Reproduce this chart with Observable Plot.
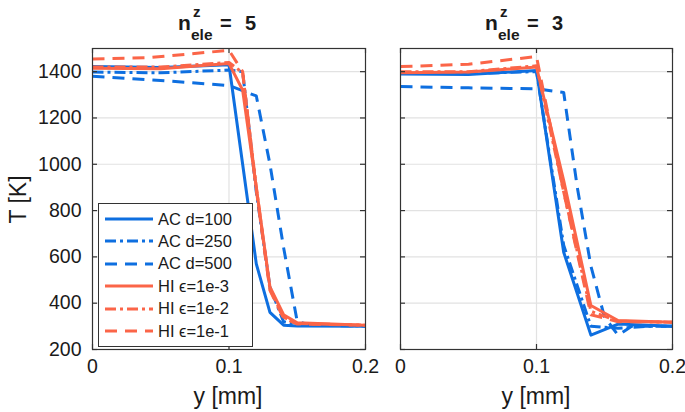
<!DOCTYPE html>
<html>
<head>
<meta charset="utf-8">
<script src="https://cdn.jsdelivr.net/npm/d3@7"></script>
<script src="https://cdn.jsdelivr.net/npm/@observablehq/plot@0.6"></script>
<style>
  html, body { margin: 0; padding: 0; background: #fff; }
  #root { position: relative; width: 685px; height: 412px; overflow: hidden; font-family: "Liberation Sans", Arial, sans-serif; color: #1a1a1a; }
  .panel { position: absolute; top: 0; overflow: visible; }
  .t { position: absolute; font-weight: bold; line-height: 1; white-space: nowrap; }
  .xlabel { position: absolute; font-size: 23px; white-space: nowrap; transform: translateX(-50%); }
  .ylabel { position: absolute; font-size: 23px; white-space: nowrap; transform: rotate(-90deg); transform-origin: center; }
  #legend { position: absolute; left: 98px; top: 203px; width: 155px; height: 144px; border: 1px solid #333; background: #fff; box-sizing: border-box; }
  .lrow { position: absolute; left: 0; height: 22px; display: flex; align-items: center; font-size: 16.5px; white-space: nowrap; }
</style>
</head>
<body>
<div id="root"></div>
<script>
// ---------------- data ----------------
const xTicks = [0, 0.1, 0.2];
const yTicks = [200, 400, 600, 800, 1000, 1200, 1400];
const titles = ["5", "3"];
const seriesNames = ["AC d=100", "AC d=250", "AC d=500", "HI  ϵ=1e-3", "HI  ϵ=1e-2", "HI  ϵ=1e-1"];

// left panel (n_ele^z = 5): [y (mm), T (K)]
const L_AC100 = [[0,1422],[0.05,1418],[0.1,1430],[0.11,1000],[0.12,570],[0.13,360],[0.14,305],[0.15,302],[0.2,300]];
const L_AC250 = [[0,1398],[0.05,1395],[0.1,1407],[0.11,1400],[0.12,880],[0.13,470],[0.14,320],[0.15,305],[0.2,302]];
const L_AC500 = [[0,1380],[0.05,1362],[0.1,1340],[0.12,1295],[0.13,1000],[0.14,640],[0.15,320],[0.16,305],[0.2,302]];
const L_HI3   = [[0,1415],[0.05,1413],[0.1,1435],[0.11,1320],[0.12,900],[0.13,470],[0.14,350],[0.15,315],[0.2,305]];
const L_HI2   = [[0,1420],[0.05,1420],[0.1,1440],[0.11,1395],[0.12,900],[0.13,460],[0.14,340],[0.15,312],[0.2,305]];
const L_HI1   = [[0,1455],[0.04,1460],[0.1,1492],[0.11,1400],[0.12,890],[0.13,455],[0.14,335],[0.15,310],[0.2,305]];

// right panel (n_ele^z = 3)
const R_AC100 = [[0,1390],[0.05,1388],[0.1,1405],[0.12,620],[0.14,262],[0.16,310],[0.2,300]];
const R_AC250 = [[0,1393],[0.05,1392],[0.1,1400],[0.12,650],[0.14,300],[0.16,292],[0.18,300],[0.2,300]];
const R_AC500 = [[0,1336],[0.05,1330],[0.1,1326],[0.12,1310],[0.13,900],[0.14,560],[0.15,340],[0.16,262],[0.17,300],[0.2,300]];
const R_HI3   = [[0,1395],[0.05,1398],[0.1,1420],[0.12,930],[0.14,390],[0.16,325],[0.2,318]];
const R_HI2   = [[0,1400],[0.05,1400],[0.1,1425],[0.12,880],[0.14,365],[0.16,322],[0.2,318]];
const R_HI1   = [[0,1422],[0.05,1432],[0.1,1465],[0.12,880],[0.14,350],[0.16,320],[0.2,318]];

// ---------------- styles ----------------
const BLUE = "#0e6fe0";
const RED = "#fb6548";
const styles = [
  {stroke: BLUE, dash: null},
  {stroke: BLUE, dash: "11,4,3,4"},
  {stroke: BLUE, dash: "12,8"},
  {stroke: RED, dash: null},
  {stroke: RED, dash: "11,4,3,4"},
  {stroke: RED, dash: "12,8"}
];

const root = document.getElementById("root");
const H = 412, MT = 48, MB = 63;
const plotH = H - MT - MB;

function panel(seriesList, left, width, ml, mr, showYLabels) {
  const plotW = width - ml - mr;
  const marks = [
    Plot.gridX([0.1], {stroke: "#e2e2e2", strokeOpacity: 1, strokeWidth: 1.2}),
    Plot.gridY(yTicks, {stroke: "#e2e2e2", strokeOpacity: 1, strokeWidth: 1.2}),
  ];
  seriesList.forEach((s, i) => {
    marks.push(Plot.line(s, {x: d => d[0], y: d => d[1], stroke: styles[i].stroke,
      strokeWidth: 3, strokeDasharray: styles[i].dash, strokeLinejoin: "round", strokeLinecap: "butt"}));
  });
  marks.push(
    Plot.frame({stroke: "#333", strokeWidth: 1.2}),
    Plot.ruleY(yTicks, {y: d => d, insetRight: plotW - 5, stroke: "#333", strokeWidth: 1.2}),
    Plot.ruleY(yTicks, {y: d => d, insetLeft: plotW - 5, stroke: "#333", strokeWidth: 1.2}),
    Plot.ruleX(xTicks, {x: d => d, insetTop: plotH - 5, stroke: "#333", strokeWidth: 1.2}),
    Plot.ruleX(xTicks, {x: d => d, insetBottom: plotH - 5, stroke: "#333", strokeWidth: 1.2}),
    Plot.axisX(xTicks, {tickSize: 0, tickPadding: 10, fontSize: 19.5, label: null, tickFormat: d => String(d)})
  );
  if (showYLabels) {
    marks.push(Plot.axisY(yTicks, {tickSize: 0, tickPadding: 11, fontSize: 19.5, label: null, tickFormat: d => String(d)}));
  }
  const svg = Plot.plot({
    width, height: H, marginLeft: ml, marginRight: mr, marginTop: MT, marginBottom: MB,
    x: {domain: [0, 0.2], axis: null}, y: {domain: [200, 1500], axis: null},
    style: {fontFamily: "'Liberation Sans', Arial, sans-serif", fontSize: "19.5px", color: "#1a1a1a", background: "transparent", overflow: "visible"},
    marks
  });
  svg.classList.add("panel");
  svg.style.left = left + "px";
  root.appendChild(svg);
}

panel([L_AC100, L_AC250, L_AC500, L_HI3, L_HI2, L_HI1], 0, 370, 92, 5, true);
panel([R_AC100, R_AC250, R_AC500, R_HI3, R_HI2, R_HI1], 370, 315, 30, 13, false);

// titles: n^z_ele = value
function addTitle(x0, val) {
  const parts = [
    {txt: "n", dx: 0, top: 12, fs: 21},
    {txt: "z", dx: 15, top: 4, fs: 15},
    {txt: "ele", dx: 13, top: 27, fs: 15.5},
    {txt: "=", dx: 42, top: 13, fs: 20},
    {txt: val, dx: 67, top: 13, fs: 20}
  ];
  parts.forEach(p => {
    const s = document.createElement("span");
    s.className = "t";
    s.textContent = p.txt;
    s.style.left = (x0 + p.dx) + "px";
    s.style.top = p.top + "px";
    s.style.fontSize = p.fs + "px";
    root.appendChild(s);
  });
}
addTitle(178, titles[0]);
addTitle(485, titles[1]);

// axis labels
function addX(cx) {
  const d = document.createElement("div");
  d.className = "xlabel"; d.textContent = "y [mm]";
  d.style.left = cx + "px"; d.style.top = "383px";
  root.appendChild(d);
}
addX(228); addX(536);
const yl = document.createElement("div");
yl.className = "ylabel"; yl.textContent = "T [K]";
yl.style.left = "-12px"; yl.style.top = "186px"; yl.style.width = "60px"; yl.style.textAlign = "center";
root.appendChild(yl);

// legend
const lg = document.createElement("div");
lg.id = "legend";
seriesNames.forEach((name, i) => {
  const row = document.createElement("div");
  row.className = "lrow";
  row.style.top = (4 + i * 22.4) + "px";
  const st = styles[i];
  row.innerHTML = `<svg width="59" height="22" style="display:block"><line x1="6" y1="11" x2="54" y2="11" stroke="${st.stroke}" stroke-width="3" ${st.dash ? `stroke-dasharray="${st.dash}"` : ""}/></svg><span>${name}</span>`;
  lg.appendChild(row);
});
root.appendChild(lg);
</script>
</body>
</html>
